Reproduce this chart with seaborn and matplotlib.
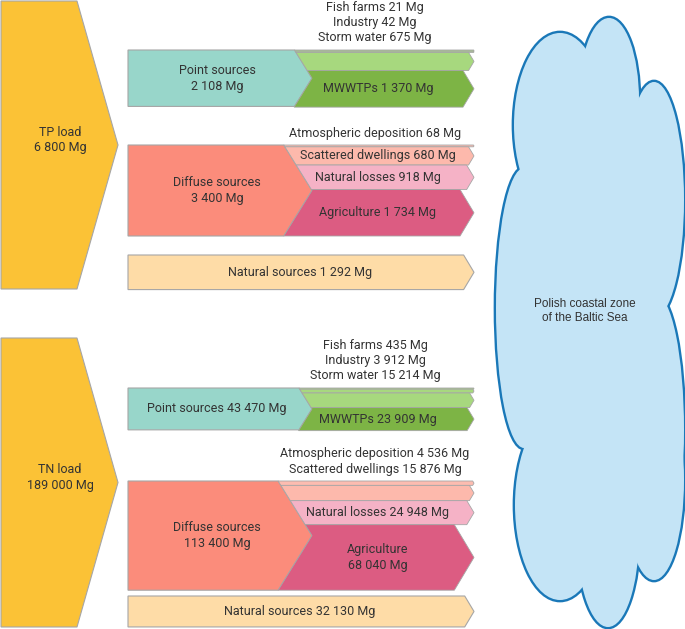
import numpy as np
import seaborn as sns
import matplotlib.pyplot as plt
from matplotlib.patches import Polygon, Ellipse

# Loads (Mg) for the two nutrients
loads = ["TP", "TN"]
total_load = [6800, 189000]

point_labels = ["Fish farms", "Industry", "Storm water", "MWWTPs"]
tp_point = [21, 42, 675, 1370]
tn_point = [435, 3912, 15214, 23909]

diffuse_labels = ["Atmospheric deposition", "Scattered dwellings", "Natural losses", "Agriculture"]
tp_diffuse = [68, 680, 918, 1734]
tn_diffuse = [4536, 15876, 24948, 68040]

natural_sources = [1292, 32130]

sea_label = "Polish coastal zone\nof the Baltic Sea"

sns.set_style("white")
plt.rcParams['font.family'] = ['Roboto', 'DejaVu Sans']

TXT = '#333333'
EDGE = '#a6a6a6'
FS = 9

# colours
c_load = '#fbc236'
c_point = '#98d6ca'
c_point_sub = ['#a7d87e', '#a7d87e', '#a7d87e', '#7db445']
c_diff = '#fb8c7b'
c_diff_sub = ['#fdbcb0', '#fdb9ac', '#f5b2c6', '#dc5c82']
c_nat = '#fedca7'

# layout (pixels, y down)
X0 = 128          # left of source bands
XT = 312          # tip of parent chevrons
XE = 474          # tip of child arrows
PX_PER_LOAD = 182  # band pixels for the whole load
group_top = {"TP": (50, 145, 255), "TN": (388, 481, 596)}
arrow_span = {"TP": (1, 289), "TN": (338, 627)}
n_above = {"TP": (3, 1), "TN": (3, 2)}
split = {("TP", "Point sources"), ("TP", "Diffuse sources"),
         ("TN", "Diffuse sources"), ("TN", "Agriculture")}


def fmt(v):
    return f"{v:,}".replace(",", " ")


def label(name, v, key):
    sep = "\n" if (key, name) in split else " "
    return f"{name}{sep}{fmt(v)} Mg"


fig = plt.figure(figsize=(6.85, 6.29), dpi=100)
ax = fig.add_axes([0, 0, 1, 1])
ax.set_xlim(0, 685)
ax.set_ylim(629, 0)
ax.axis('off')


def add_poly(pts, color, z=2, lw=0.8):
    ax.add_patch(Polygon(pts, closed=True, facecolor=color, edgecolor=EDGE, lw=lw, zorder=z))


def child_arrow(a, b, top, bot, depth, color):
    mid = (top + bot) / 2
    half = (bot - top) / 2
    chev = lambda y: XT - depth * abs(y - mid) / half
    pts = [(chev(a), a)]
    if a < mid < b:
        pts.append((XT, mid))
    pts.append((chev(b), b))
    d2 = 0.6 * (b - a) / 2
    pts += [(XE - d2, b), (XE, (a + b) / 2), (XE - d2, a)]
    add_poly(pts, color, z=3, lw=0.6)


for k, key in enumerate(loads):
    scale = PX_PER_LOAD / total_load[k]
    subs = [(point_labels, [tp_point, tn_point][k], c_point, c_point_sub, "Point sources"),
            (diffuse_labels, [tp_diffuse, tn_diffuse][k], c_diff, c_diff_sub, "Diffuse sources")]

    # big load arrow
    t, b = arrow_span[key]
    m = (t + b) / 2
    add_poly([(1, t), (77, t), (118, m), (77, b), (1, b)], c_load)
    ax.text(60, m - 5, f"{key} load\n{fmt(total_load[k])} Mg", ha='center', va='center',
            fontsize=FS, color=TXT, linespacing=1.3)

    for g, (names, vals, pc, cc, pname) in enumerate(subs):
        top = group_top[key][g]
        h = sum(vals) * scale
        bot = top + h
        mid = top + h / 2
        depth = 0.62 * h / 2
        add_poly([(X0, top), (XT - depth, top), (XT, mid), (XT - depth, bot), (X0, bot)], pc)
        ax.text(217, mid, label(pname, sum(vals), key), ha='center', va='center',
                fontsize=FS, color=TXT, linespacing=1.3, zorder=5)
        y = top
        na = n_above[key][g]
        for i, (nm, v) in enumerate(zip(names, vals)):
            hh = max(v * scale, 1.2)
            child_arrow(y, y + hh, top, bot, depth, cc[i])
            if i < na:
                ax.text(375, top - 12 - 15.5 * (na - 1 - i), label(nm, v, key), ha='center',
                        va='center', fontsize=FS, color=TXT, zorder=5)
            else:
                ax.text(378, y + hh / 2, label(nm, v, key), ha='center', va='center',
                        fontsize=FS, color=TXT, linespacing=1.3, zorder=5)
            y += hh

    # natural sources
    top = group_top[key][2]
    h = natural_sources[k] * scale
    d2 = 0.6 * h / 2
    add_poly([(X0, top), (XE - d2, top), (XE, top + h / 2), (XE - d2, top + h), (X0, top + h)], c_nat)
    ax.text(300, top + h / 2, label("Natural sources", natural_sources[k], key), ha='center',
            va='center', fontsize=FS, color=TXT, zorder=5)

# cloud: outlined ellipses, then the same fills on top to hide inner outlines
lobes = [(560, 125, 92, 184), (609, 100, 60, 164), (654, 200, 60, 236), (524, 308, 56, 280),
         (656, 430, 56, 270), (560, 505, 90, 190), (608, 535, 62, 184), (654, 480, 60, 200),
         (592, 320, 120, 420)]
for cx, cy, w, hh in lobes:
    ax.add_patch(Ellipse((cx, cy), w, hh, facecolor='#c4e4f6', edgecolor='#1a78b8', lw=3.4, zorder=1))
for cx, cy, w, hh in lobes:
    ax.add_patch(Ellipse((cx, cy), w, hh, facecolor='#c4e4f6', edgecolor='none', zorder=1.5))
ax.text(585, 311, sea_label, ha='center', va='center', fontsize=8.5, color=TXT,
        family=['Liberation Sans', 'DejaVu Sans'], linespacing=1.25, zorder=5)

plt.savefig('out.png', dpi=100)
